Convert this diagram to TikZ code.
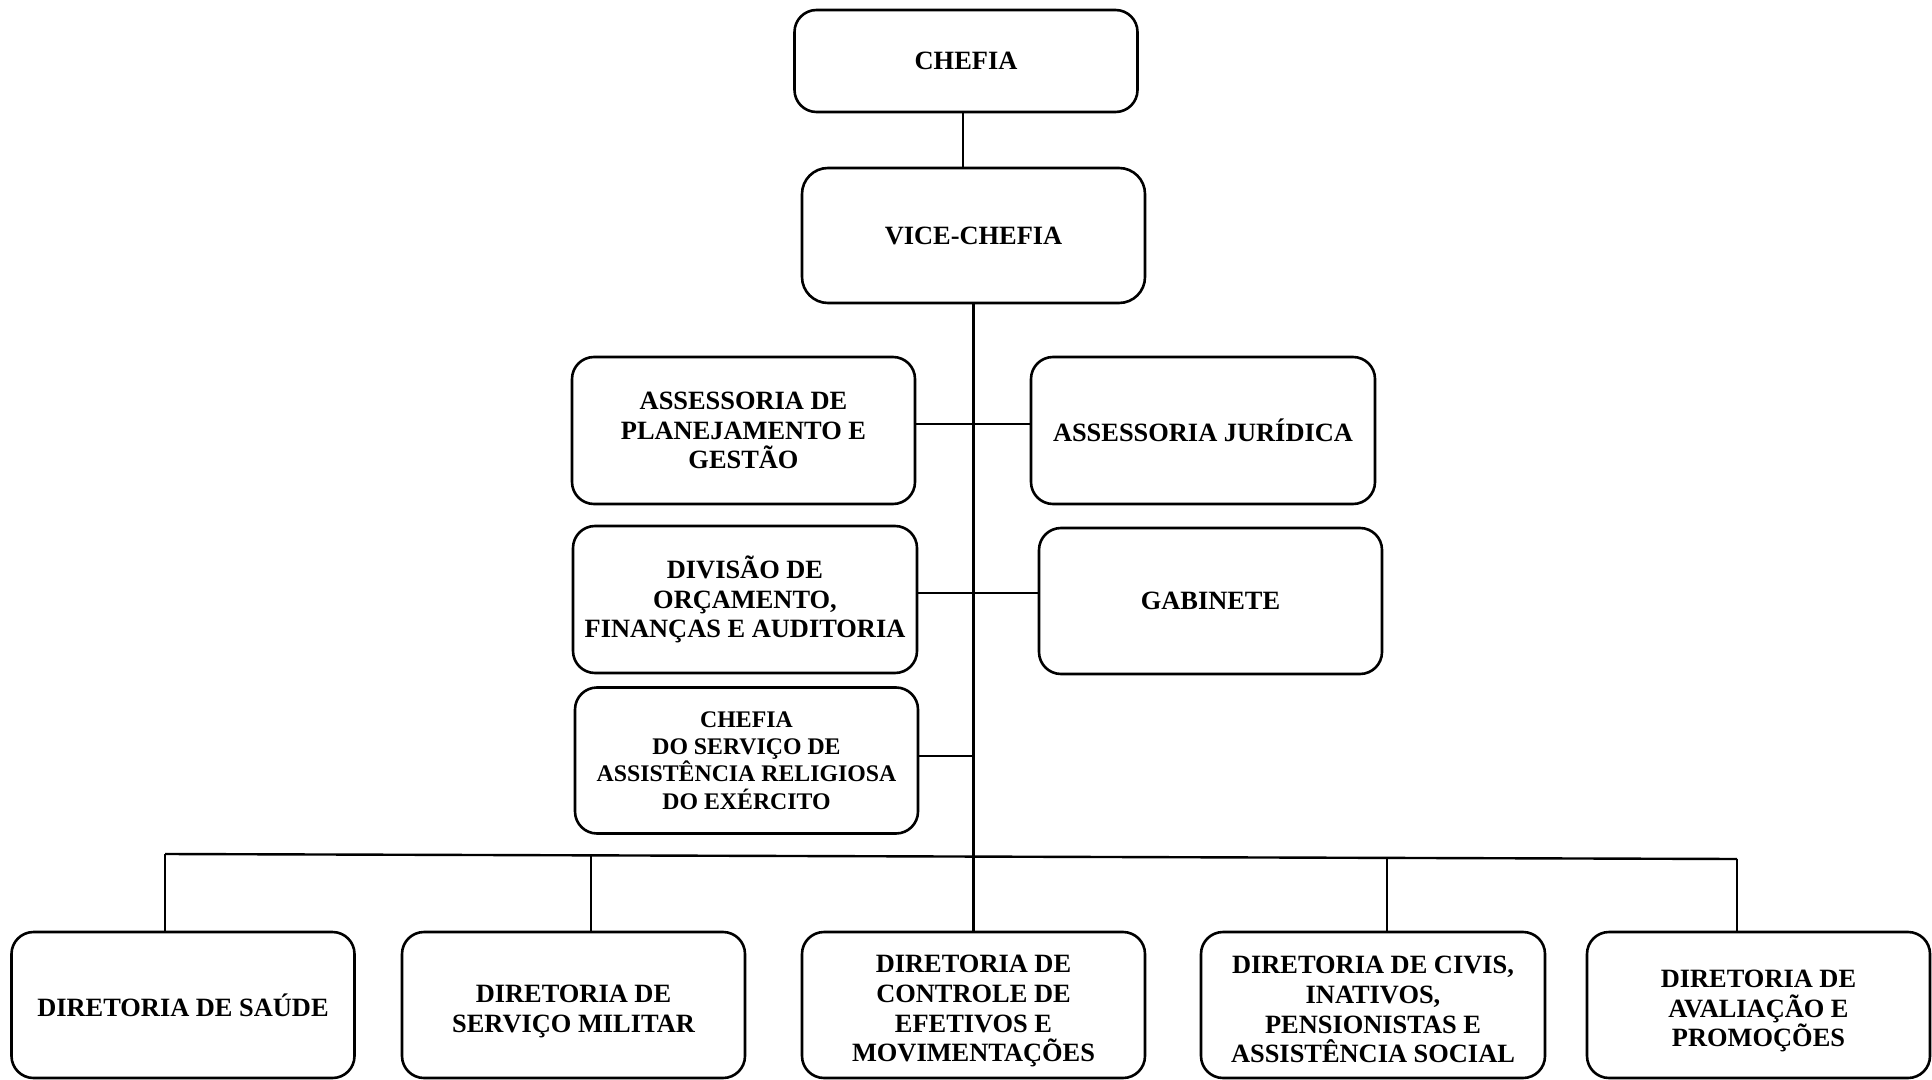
\documentclass[tikz,border=0pt]{standalone}
\usepackage{fontspec}
\setmainfont{Liberation Serif}
\newcommand{\dnstrut}{\rule{0pt}{15pt}}
\begin{document}
\begin{tikzpicture}[x=0.5pt,y=-0.5pt,
  box/.style={draw, line width=1.3pt, rounded corners=11pt, inner sep=0pt,
    align=center, font=\fontsize{13.2}{14.8}\selectfont\bfseries,
    minimum width=171.5pt},
  small/.style={font=\fontsize{11.9}{13.7}\selectfont\bfseries},
  conn/.style={line width=1.2pt},
  thin/.style={line width=0.8pt}]
\useasboundingbox (0,0) rectangle (1932,1080);
% top
\node[box, minimum height=51pt] (chefia) at (966,61) {CHEFIA};
\node[box, minimum height=67.5pt, rounded corners=13pt] (vice) at (973.5,235.5) {VICE-CHEFIA};
% middle
\node[box, minimum height=73.5pt] (plan) at (743.5,430.5) {ASSESSORIA DE\\PLANEJAMENTO E\\GESTÃO};
\node[box, minimum height=73.5pt, minimum width=172pt] (jur) at (1203,430.5) {ASSESSORIA JURÍDICA};
\node[box, minimum height=73.5pt, minimum width=172pt] (div) at (745,599.5) {DIVISÃO DE\\ORÇAMENTO,\\FINANÇAS E AUDITORIA};
\node[box, minimum height=73pt] (gab) at (1210.5,601) {GABINETE};
\node[box, small, minimum height=73pt] (rel) at (746.5,760.5) {CHEFIA\\DO SERVIÇO DE\\ASSISTÊNCIA RELIGIOSA\\DO EXÉRCITO};
% bottom
\node[box, minimum height=73pt] (saude) at (183,1005) {DIRETORIA DE SAÚDE};
\node[box, minimum height=73pt] (mil) at (573.5,1005) {\dnstrut DIRETORIA DE\\SERVIÇO MILITAR};
\node[box, minimum height=73pt] (ctrl) at (973.5,1005) {\dnstrut DIRETORIA DE\\CONTROLE DE\\EFETIVOS E\\MOVIMENTAÇÕES};
\node[box, minimum height=73pt, minimum width=172pt] (civ) at (1373,1005) {\rule{0pt}{13.5pt}DIRETORIA DE CIVIS,\\INATIVOS,\\PENSIONISTAS E\\ASSISTÊNCIA SOCIAL};
\node[box, minimum height=73pt] (aval) at (1758.5,1005) {\dnstrut DIRETORIA DE\\AVALIAÇÃO E\\PROMOÇÕES};
% connectors
\draw[line width=1.4pt] ([xshift=-1.5pt]chefia.south) -- ([xshift=-1.5pt]chefia.south |- vice.north);
\draw[line width=1.3pt] (vice.south) -- (ctrl.north);
\coordinate (h1) at (0,424);
\coordinate (h2) at (0,593);
\coordinate (h3) at (0,756);
\draw[conn] (plan.east |- h1) -- (jur.west |- h1);
\draw[conn] (div.east |- h2) -- (gab.west |- h2);
\draw[conn] (rel.east |- h3) -- (vice.south |- h3);
% bus
\coordinate (b1) at (165,854);
\coordinate (b2) at (591,855.4);
\coordinate (b4) at (1387,857.9);
\coordinate (b5) at (1737,859);
\draw[line width=1.2pt] (b1) -- (b5);
\draw[thin] (b1) -- (b1 |- saude.north);
\draw[thin] (b2) -- (b2 |- mil.north);
\draw[thin] (b4) -- (b4 |- civ.north);
\draw[thin] (b5) -- (b5 |- aval.north);
\end{tikzpicture}
\end{document}
